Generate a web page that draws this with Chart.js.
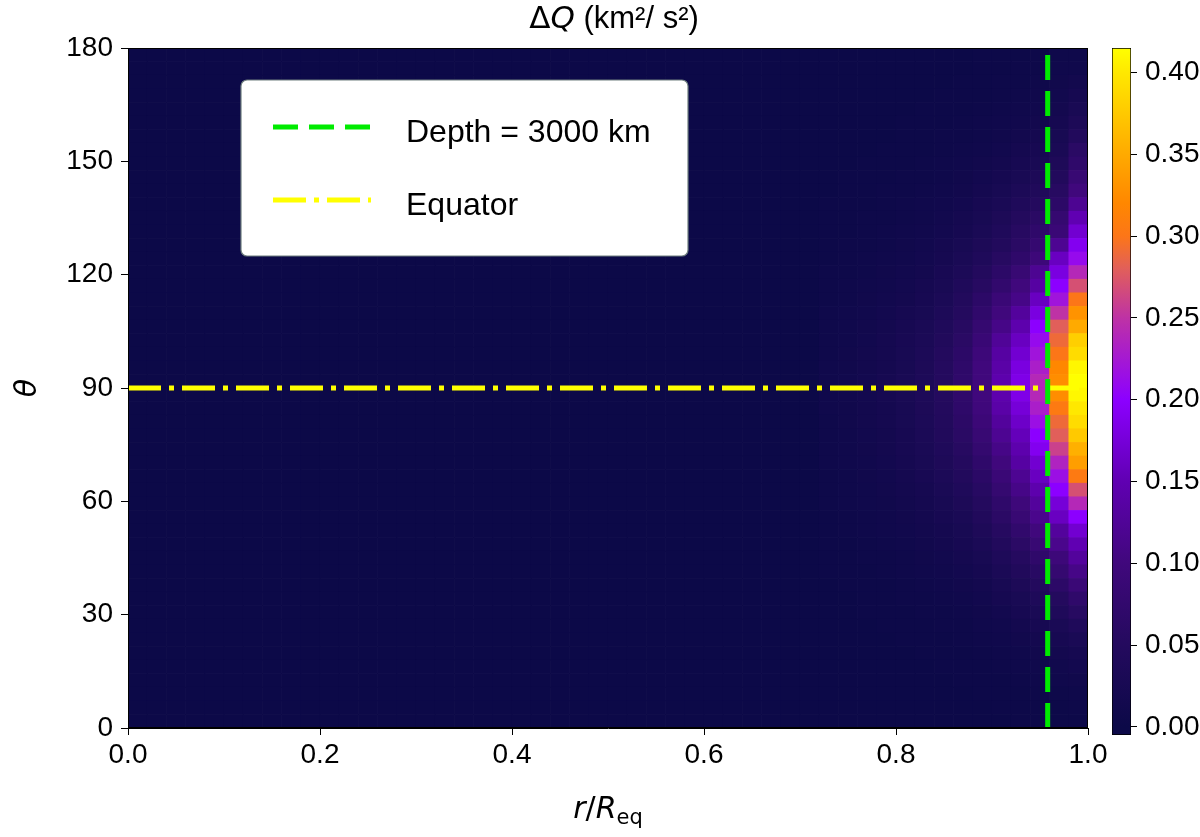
<!DOCTYPE html>
<html>
<head>
<meta charset="utf-8">
<script src="https://cdn.jsdelivr.net/npm/chart.js@4.4.0/dist/chart.umd.min.js"></script>
<style>
html, body { margin: 0; padding: 0; background: #fff; }
#wrap { position: relative; width: 1200px; height: 837px; }
#wrap canvas { position: absolute; left: 0; top: 0; }
</style>
</head>
<body>
<div id="wrap">
  <canvas id="heat" width="1200" height="837"></canvas>
  <canvas id="cbar" width="1200" height="837"></canvas>
</div>
<script>
// grid: 50 radial columns (r/Req 0..1) x 50 colatitude rows (theta 0..180)
const nR = 50;
const nTheta = 50;

const xTicks = [0, 0.2, 0.4, 0.6, 0.8, 1.0];
const yTicks = [0, 30, 60, 90, 120, 150, 180];
const cbTicks = [0, 0.05, 0.10, 0.15, 0.20, 0.25, 0.30, 0.35, 0.40];
const cbMin = -0.005;
const cbMax = 0.415;

const depthR = 0.958;      // 3000 km below the surface
const equatorTheta = 90;

// dQ per column, rows listed from theta = 0 upwards (columns 0..35 are ~0)
const col36 = [0,0,0,0,0.001,0.001,0.001,0.001,0.001,0.001, 0.001,0.002,0.002,0.002,0.003,0.003,0.004,0.004,0.005,0.006, 0.006,0.007,0.007,0.008,0.008,0.008,0.008,0.007,0.007,0.006, 0.006,0.005,0.004,0.004,0.003,0.003,0.002,0.002,0.002,0.001, 0.001,0.001,0.001,0.001,0,0,0,0,0,0];
const col37 = [0,0,0.001,0.001,0.001,0.001,0.001,0.001,0.001,0.001, 0.002,0.002,0.003,0.003,0.004,0.005,0.006,0.006,0.007,0.008, 0.009,0.009,0.010,0.010,0.011,0.011,0.010,0.010,0.009,0.009, 0.008,0.007,0.006,0.005,0.004,0.004,0.003,0.003,0.002,0.002, 0.002,0.001,0.001,0.001,0.001,0.001,0,0,0,0];
const col38 = [0,0.001,0.001,0.001,0.001,0.001,0.001,0.001,0.002,0.002, 0.002,0.003,0.004,0.005,0.006,0.007,0.008,0.009,0.010,0.011, 0.012,0.013,0.014,0.014,0.015,0.015,0.014,0.014,0.013,0.012, 0.011,0.010,0.008,0.007,0.006,0.005,0.004,0.004,0.003,0.003, 0.002,0.002,0.001,0.001,0.001,0.001,0.001,0.001,0,0];
const col39 = [0.001,0.001,0.001,0.001,0.001,0.001,0.001,0.002,0.002,0.003, 0.003,0.004,0.005,0.006,0.008,0.009,0.010,0.012,0.013,0.015, 0.016,0.017,0.018,0.019,0.020,0.020,0.019,0.019,0.018,0.016, 0.015,0.013,0.011,0.010,0.008,0.007,0.006,0.005,0.004,0.004, 0.003,0.002,0.002,0.001,0.001,0.001,0.001,0.001,0.001,0.001];
const col40 = [0.001,0.001,0.001,0.001,0.001,0.001,0.002,0.002,0.003,0.004, 0.005,0.006,0.007,0.009,0.011,0.012,0.014,0.016,0.018,0.020, 0.022,0.023,0.025,0.026,0.027,0.027,0.026,0.025,0.024,0.022, 0.020,0.017,0.015,0.013,0.011,0.010,0.008,0.007,0.006,0.005, 0.004,0.003,0.002,0.002,0.002,0.001,0.001,0.001,0.001,0.001];
const col41 = [0.001,0.001,0.001,0.001,0.001,0.002,0.002,0.003,0.004,0.005, 0.006,0.008,0.010,0.012,0.014,0.016,0.018,0.021,0.024,0.027, 0.029,0.031,0.033,0.035,0.036,0.036,0.035,0.034,0.032,0.029, 0.026,0.023,0.020,0.017,0.015,0.013,0.011,0.009,0.008,0.006, 0.005,0.004,0.003,0.003,0.002,0.002,0.001,0.001,0.001,0.001];
const col42 = [0.001,0.001,0.001,0.001,0.002,0.002,0.003,0.004,0.005,0.007, 0.009,0.011,0.013,0.016,0.019,0.022,0.025,0.029,0.033,0.037, 0.040,0.043,0.046,0.048,0.050,0.050,0.049,0.047,0.044,0.040, 0.036,0.032,0.028,0.024,0.021,0.018,0.015,0.013,0.011,0.009, 0.007,0.006,0.005,0.004,0.003,0.002,0.002,0.001,0.001,0.001];
const col43 = [0.001,0.001,0.001,0.002,0.002,0.003,0.004,0.005,0.007,0.009, 0.012,0.015,0.018,0.022,0.026,0.030,0.035,0.040,0.045,0.050, 0.055,0.060,0.064,0.068,0.070,0.070,0.068,0.065,0.060,0.055, 0.050,0.045,0.040,0.034,0.029,0.025,0.021,0.018,0.015,0.012, 0.010,0.008,0.006,0.005,0.004,0.003,0.002,0.002,0.001,0.001];
const col44 = [0.001,0.001,0.002,0.002,0.003,0.004,0.006,0.008,0.010,0.013, 0.017,0.021,0.026,0.031,0.037,0.043,0.049,0.056,0.063,0.070, 0.078,0.085,0.092,0.098,0.100,0.100,0.100,0.095,0.088,0.080, 0.072,0.065,0.055,0.048,0.040,0.035,0.030,0.026,0.022,0.018, 0.015,0.012,0.009,0.007,0.006,0.004,0.003,0.003,0.002,0.002];
const col45 = [0.001,0.002,0.002,0.003,0.004,0.006,0.008,0.011,0.015,0.020, 0.025,0.031,0.038,0.045,0.053,0.062,0.070,0.080,0.090,0.100, 0.110,0.120,0.130,0.140,0.145,0.145,0.140,0.135,0.125,0.110, 0.100,0.090,0.075,0.065,0.055,0.045,0.040,0.035,0.030,0.025, 0.020,0.016,0.013,0.010,0.008,0.006,0.005,0.004,0.003,0.002];
const col46 = [0.002,0.002,0.003,0.004,0.006,0.009,0.012,0.017,0.022,0.028, 0.035,0.043,0.052,0.062,0.073,0.085,0.097,0.110,0.120,0.135, 0.145,0.155,0.165,0.175,0.185,0.185,0.180,0.170,0.160,0.145, 0.130,0.110,0.100,0.085,0.070,0.060,0.055,0.047,0.040,0.033, 0.027,0.022,0.018,0.014,0.011,0.008,0.006,0.005,0.004,0.003];
const col47 = [0.002,0.003,0.004,0.006,0.008,0.012,0.017,0.023,0.030,0.038, 0.048,0.058,0.070,0.085,0.100,0.115,0.130,0.145,0.160,0.170, 0.190,0.200,0.215,0.230,0.240,0.240,0.230,0.220,0.210,0.200, 0.180,0.160,0.135,0.120,0.095,0.080,0.070,0.060,0.050,0.042, 0.035,0.028,0.022,0.018,0.014,0.011,0.008,0.006,0.005,0.004];
const col48 = [0.002,0.003,0.005,0.008,0.011,0.016,0.022,0.030,0.040,0.050, 0.065,0.080,0.095,0.115,0.130,0.160,0.175,0.200,0.215,0.235, 0.260,0.280,0.290,0.305,0.325,0.325,0.320,0.300,0.290,0.280, 0.250,0.220,0.200,0.180,0.160,0.120,0.090,0.080,0.065,0.055, 0.045,0.037,0.030,0.025,0.020,0.016,0.013,0.010,0.008,0.006];
const col49 = [0.003,0.004,0.006,0.010,0.015,0.020,0.030,0.040,0.055,0.070, 0.090,0.110,0.130,0.150,0.170,0.200,0.240,0.270,0.305,0.340, 0.355,0.375,0.390,0.400,0.410,0.415,0.410,0.390,0.380,0.350, 0.330,0.300,0.270,0.240,0.210,0.190,0.170,0.150,0.120,0.100, 0.085,0.070,0.060,0.045,0.035,0.027,0.020,0.014,0.009,0.006];

const dqColumns = {
  36: col36, 37: col37, 38: col38, 39: col39, 40: col40, 41: col41, 42: col42,
  43: col43, 44: col44, 45: col45, 46: col46, 47: col47, 48: col48, 49: col49
};

// colour map (navy -> violet -> magenta -> orange -> yellow)
const cmapStops = [
  [0.000, [12, 9, 72]],
  [0.050, [36, 10, 94]],
  [0.100, [64, 8, 124]],
  [0.150, [96, 0, 178]],
  [0.200, [140, 0, 255]],
  [0.250, [190, 50, 165]],
  [0.280, [225, 95, 90]],
  [0.300, [252, 118, 24]],
  [0.320, [255, 135, 0]],
  [0.350, [255, 170, 0]],
  [0.400, [255, 232, 0]],
  [0.415, [255, 255, 0]]
];

function cmap(v) {
  if (v <= cmapStops[0][0]) return 'rgb(' + cmapStops[0][1].join(',') + ')';
  for (let i = 1; i < cmapStops.length; i++) {
    const [v1, c1] = cmapStops[i];
    if (v <= v1) {
      const [v0, c0] = cmapStops[i - 1];
      const t = (v - v0) / (v1 - v0);
      const c = c0.map((a, k) => Math.round(a + (c1[k] - a) * t));
      return 'rgb(' + c.join(',') + ')';
    }
  }
  return 'rgb(' + cmapStops[cmapStops.length - 1][1].join(',') + ')';
}

const GREEN = 'rgb(0, 235, 0)';
const YELLOW = 'rgb(255, 255, 0)';
const SANS = '"Liberation Sans", Arial, sans-serif';
const MATH = '"DejaVu Sans", sans-serif';

// one floating-bar dataset per theta row
const rowDatasets = [];
for (let it = 0; it < nTheta; it++) {
  const lo = it * 180 / nTheta;
  const hi = (it + 1) * 180 / nTheta;
  const pts = [];
  const colors = [];
  for (let ir = 0; ir < nR; ir++) {
    const col = dqColumns[ir];
    pts.push({ x: (ir + 0.5) / nR, y: [lo, hi] });
    colors.push(cmap(col ? col[it] : 0));
  }
  rowDatasets.push({
    type: 'bar',
    data: pts,
    backgroundColor: colors,
    borderWidth: 0,
    order: 2
  });
}

const depthLine = {
  type: 'line',
  data: [{ x: depthR, y: 0 }, { x: depthR, y: 180 }],
  borderColor: GREEN,
  borderWidth: 5,
  borderDash: [25, 11],
  borderCapStyle: 'butt',
  pointRadius: 0,
  order: 0
};

const equatorLine = {
  type: 'line',
  data: [{ x: 0, y: equatorTheta }, { x: 1, y: equatorTheta }],
  borderColor: YELLOW,
  borderWidth: 5,
  borderDash: [33, 8, 5, 8],
  borderCapStyle: 'butt',
  pointRadius: 0,
  order: 1
};

// frame, legend, title and math-style axis labels
const overlay = {
  id: 'overlay',
  afterDraw(chart) {
    const { ctx, chartArea: a } = chart;
    ctx.save();
    ctx.strokeStyle = '#000';
    ctx.lineWidth = 1;
    ctx.strokeRect(a.left + 0.5, a.top + 0.5, a.right - a.left - 1, a.bottom - a.top - 1);

    // legend box
    const lx = a.left + 113, ly = a.top + 32;
    ctx.beginPath();
    ctx.roundRect(lx, ly, 447, 176, 6);
    ctx.fillStyle = '#fff';
    ctx.fill();
    ctx.strokeStyle = '#6f7f7f';
    ctx.lineWidth = 1.2;
    ctx.stroke();

    ctx.lineWidth = 5;
    ctx.lineCap = 'butt';
    ctx.setLineDash([25, 11]);
    ctx.strokeStyle = GREEN;
    ctx.beginPath();
    ctx.moveTo(lx + 32, ly + 47);
    ctx.lineTo(lx + 130, ly + 47);
    ctx.stroke();
    ctx.setLineDash([33, 8, 5, 8]);
    ctx.strokeStyle = YELLOW;
    ctx.beginPath();
    ctx.moveTo(lx + 32, ly + 120);
    ctx.lineTo(lx + 130, ly + 120);
    ctx.stroke();
    ctx.setLineDash([]);

    ctx.fillStyle = '#000';
    ctx.font = '32px ' + SANS;
    ctx.textBaseline = 'alphabetic';
    ctx.textAlign = 'left';
    ctx.fillText('Depth = 3000 km', lx + 165, ly + 62);
    ctx.fillText('Equator', lx + 165, ly + 135);

    // title: ΔQ (km²/ s²)
    const parts = [
      { t: 'Δ', f: '31px ' + MATH },
      { t: 'Q', f: 'italic 31px ' + MATH },
      { t: ' (km²/ s²)', f: '31px ' + SANS }
    ];
    drawRuns(ctx, parts, (a.left + a.right) / 2 + 6, 28);

    // x label: r/R_eq
    const xl = [
      { t: 'r', f: 'italic 30px ' + MATH },
      { t: '/', f: '30px ' + MATH },
      { t: 'R', f: 'italic 30px ' + MATH },
      { t: 'eq', f: '21px ' + MATH, dy: 6 }
    ];
    drawRuns(ctx, xl, (a.left + a.right) / 2, 818);

    // y label: θ
    ctx.save();
    ctx.translate(36, (a.top + a.bottom) / 2);
    ctx.rotate(-Math.PI / 2);
    ctx.font = 'italic 30px ' + MATH;
    ctx.textAlign = 'center';
    ctx.fillText('θ', 0, 0);
    ctx.restore();

    ctx.restore();
  }
};

function drawRuns(ctx, runs, cx, baseline) {
  let total = 0;
  runs.forEach(r => { ctx.font = r.f; r.w = ctx.measureText(r.t).width; total += r.w; });
  let x = cx - total / 2;
  ctx.textAlign = 'left';
  ctx.textBaseline = 'alphabetic';
  ctx.fillStyle = '#000';
  runs.forEach(r => {
    ctx.font = r.f;
    ctx.fillText(r.t, x, baseline + (r.dy || 0));
    x += r.w;
  });
}

const tickFont = { family: SANS, size: 28 };

new Chart(document.getElementById('heat'), {
  type: 'bar',
  data: { datasets: [depthLine, equatorLine, ...rowDatasets] },
  options: {
    responsive: false,
    animation: false,
    events: [],
    layout: { padding: { left: 0, right: 112, top: 48, bottom: 0 } },
    datasets: { bar: { grouped: false, barPercentage: 1, categoryPercentage: 1 } },
    plugins: { legend: { display: false }, tooltip: { enabled: false } },
    scales: {
      x: {
        type: 'linear',
        min: 0,
        max: 1,
        offset: false,
        afterFit: s => { s.height = 109; },
        afterBuildTicks: s => { s.ticks = xTicks.map(v => ({ value: v })); },
        grid: { offset: false, drawOnChartArea: false, drawTicks: true, tickLength: 7, color: '#000' },
        border: { display: true, color: '#000' },
        ticks: { color: '#000', font: tickFont, padding: 3, maxRotation: 0, callback: v => v.toFixed(1) }
      },
      y: {
        type: 'linear',
        min: 0,
        max: 180,
        afterFit: s => { s.width = 128; },
        afterBuildTicks: s => { s.ticks = yTicks.map(v => ({ value: v })); },
        grid: { drawOnChartArea: false, drawTicks: true, tickLength: 7, color: '#000' },
        border: { display: true, color: '#000' },
        ticks: { color: '#000', font: tickFont, padding: 8, callback: v => String(v) }
      }
    }
  },
  plugins: [overlay]
});

// colour bar
new Chart(document.getElementById('cbar'), {
  type: 'bar',
  data: {
    labels: [''],
    datasets: [{
      data: [[cbMin, cbMax]],
      backgroundColor: c => {
        const ch = c.chart;
        if (!ch.chartArea) return cmap(0);
        const ys = ch.scales.y;
        const v0 = cmapStops[0][0], v1 = cmapStops[cmapStops.length - 1][0];
        const g = ch.ctx.createLinearGradient(0, ys.getPixelForValue(v0), 0, ys.getPixelForValue(v1));
        cmapStops.forEach(([v, rgb]) => g.addColorStop((v - v0) / (v1 - v0), 'rgb(' + rgb.join(',') + ')'));
        return g;
      },
      borderColor: '#000',
      borderWidth: 1,
      borderSkipped: false,
      barPercentage: 1,
      categoryPercentage: 1
    }]
  },
  options: {
    responsive: false,
    animation: false,
    events: [],
    layout: { padding: { left: 1112, right: 0, top: 48, bottom: 102 } },
    plugins: { legend: { display: false }, tooltip: { enabled: false } },
    scales: {
      x: { display: false },
      y: {
        position: 'right',
        min: cbMin,
        max: cbMax,
        afterFit: s => { s.width = 69; },
        afterBuildTicks: s => { s.ticks = cbTicks.map(v => ({ value: v })); },
        grid: { drawOnChartArea: false, drawTicks: true, tickLength: 6, color: '#000' },
        border: { display: false },
        ticks: { color: '#000', font: tickFont, padding: 8, callback: v => v.toFixed(2) }
      }
    }
  }
});
</script>
</body>
</html>
